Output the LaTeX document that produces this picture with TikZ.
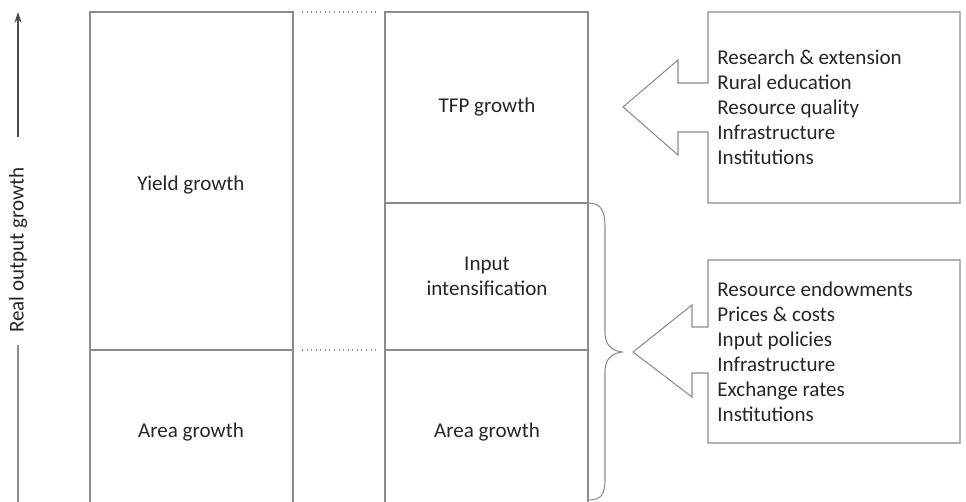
\documentclass[tikz,border=0pt]{standalone}
\usepackage{fontspec}
\setmainfont{Carlito}
\usetikzlibrary{arrows.meta}

\begin{document}
\begin{tikzpicture}[x=0.02cm,y=-0.02cm,line width=0.6pt,
  font=\fontsize{12}{14.2}\selectfont,
  box/.style={draw=black!45},
  lbl/.style={text=black!85,align=center},
  lst/.style={text=black!85,align=left,anchor=west}]
\useasboundingbox (0,0) rectangle (966,502);

% axis
\draw[box] (18,502) -- (18,345);
\draw[box,-{Stealth[length=6pt,width=4pt]},draw=black!70] (18,137) -- (18,12);
\node[lbl,rotate=90] (axis) at (18,250) {Real output growth};

% left column
\draw[box] (90,502) -- (90,12) -- (293,12) -- (293,502);
\draw[box] (90,350) -- (293,350);
\node[lbl] (yield) at (191,185) {Yield growth};
\node[lbl] (area1) at (191,432) {Area growth};

% middle column
\draw[box] (385,502) -- (385,12) -- (588,12) -- (588,502);
\draw[box] (385,203) -- (588,203);
\draw[box] (385,350) -- (588,350);
\node[lbl] (tfp) at (487,107) {TFP growth};
\node[lbl] (input) at (487,276) {Input\\intensification};
\node[lbl] (area2) at (487,432) {Area growth};

\draw[box,dotted] (302,12) -- (376,12);
\draw[box,dotted] (302,350) -- (376,350);

% brace
\draw[box] (588,203) .. controls (602,203) and (605,212) .. (605,228)
  -- (605,332) .. controls (605,344) and (610,350) .. (622,352)
  .. controls (610,354) and (605,360) .. (605,372)
  -- (605,478) .. controls (605,494) and (602,500) .. (588,500);

% upper factors
\draw[box] (708,83) -- (708,12) -- (960,12) -- (960,203) -- (708,203) -- (708,132)
  -- (678,132) -- (678,155) -- (623,107) -- (678,60) -- (678,83) -- cycle;
\node[lst] (tfpfac) at (711,107) {Research \& extension\\Rural education\\Resource quality\\Infrastructure\\Institutions};

% lower factors
\draw[box] (708,327) -- (708,260) -- (960,260) -- (960,443) -- (708,443) -- (708,373)
  -- (692,373) -- (692,397) -- (633,352) -- (692,305) -- (692,327) -- cycle;
\node[lst] (inpfac) at (711,352) {Resource endowments\\Prices \& costs\\Input policies\\Infrastructure\\Exchange rates\\Institutions};

\end{tikzpicture}
\end{document}
